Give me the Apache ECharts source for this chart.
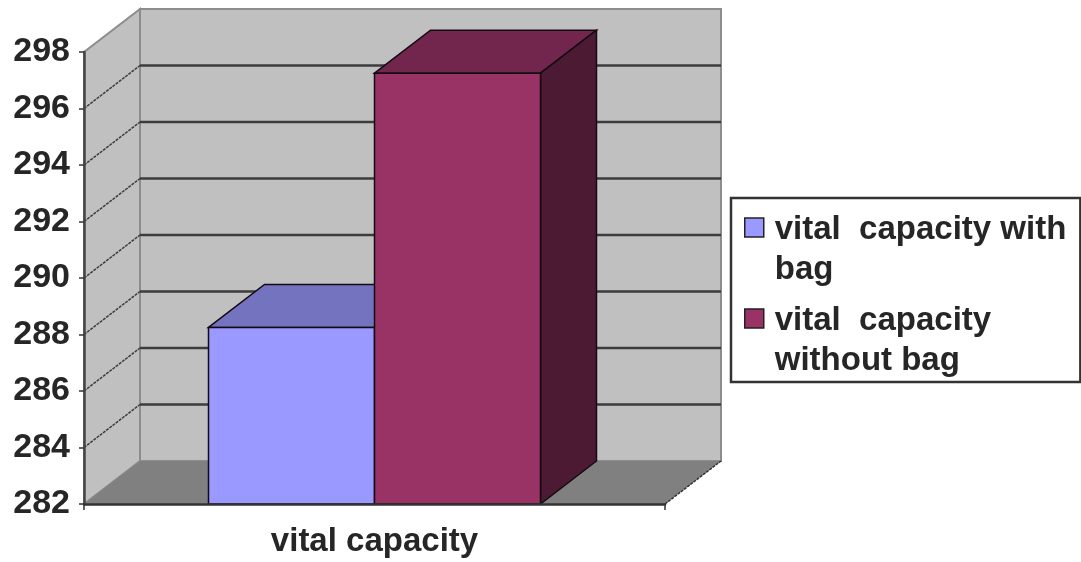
<!DOCTYPE html>
<html>
<head>
<meta charset="utf-8">
<style>html,body{margin:0;padding:0;background:#fff}#chart{width:1081px;height:562px}</style>
<script src="https://cdn.jsdelivr.net/npm/echarts@6/dist/echarts.min.js"></script>
</head>
<body>
<div id="chart"></div>
<script>
// Vital capacity measured with and without a bag
const categories = ['vital capacity'];
const withBag = [288.25];
const withoutBag = [297.25];
const yTicks = [282, 284, 286, 288, 290, 292, 294, 296, 298];
const seriesNames = ['vital  capacity with bag', 'vital  capacity without bag'];

// Oblique projection offset of the chart's depth, in pixels
const DEPTH_X = 56, DEPTH_Y = 43;
// Each bar's share of the category band
const BAR_SHARE = 166 / 581;

const poly = (points, fill, stroke, lineWidth) => ({
  type: 'polygon',
  shape: { points },
  style: { fill, stroke: stroke || 'none', lineWidth: lineWidth || 0 }
});
const line = (x1, y1, x2, y2, stroke, lineWidth, lineDash) => ({
  type: 'line',
  shape: { x1, y1, x2, y2 },
  style: { stroke, lineWidth, lineDash: lineDash || null, fill: 'none' }
});

// Back wall, side wall, floor and the gridlines that wrap around them
function renderWalls(params, api) {
  const cs = params.coordSys;
  const left = cs.x, right = cs.x + cs.width;
  const y = api.coord([0, api.value(0)])[1];
  const bottom = cs.y + cs.height, top = cs.y;
  const children = [];
  if (params.dataIndex === 0) {
    children.push(
      poly([[left + DEPTH_X, top - DEPTH_Y], [right + DEPTH_X, top - DEPTH_Y],
            [right + DEPTH_X, bottom - DEPTH_Y], [left + DEPTH_X, bottom - DEPTH_Y]], '#c0c0c0', '#8c8c8c', 2),
      poly([[left, top], [left + DEPTH_X, top - DEPTH_Y], [left + DEPTH_X, bottom - DEPTH_Y], [left, bottom]], '#c0c0c0', '#8c8c8c', 2),
      poly([[left, bottom], [left + DEPTH_X, bottom - DEPTH_Y], [right + DEPTH_X, bottom - DEPTH_Y], [right, bottom]], '#808080', 'none', 0),
      line(right, bottom, right + DEPTH_X, bottom - DEPTH_Y, '#333', 1.5, [3, 1])
    );
  } else if (api.value(0) !== yTicks[yTicks.length - 1]) {
    children.push(
      line(left + DEPTH_X, y - DEPTH_Y, right + DEPTH_X, y - DEPTH_Y, '#3c3c3c', 2.4),
      line(left, y, left + DEPTH_X, y - DEPTH_Y, '#3c3c3c', 1.5, [3, 1])
    );
  }
  return { type: 'group', children };
}

// A box standing on the front plane, drawn as front, top and side faces
function boxRenderer(barIndex, faces) {
  return function (params, api) {
    const center = api.coord([api.value(0), api.value(1)]);
    const base = api.coord([api.value(0), yTicks[0]]);
    const w = api.size([1, 0])[0] * BAR_SHARE;
    const x0 = center[0] + (barIndex - 1) * w, x1 = x0 + w;
    const yt = center[1], yb = base[1];
    const edge = '#140a14';
    return {
      type: 'group',
      children: [
        poly([[x0, yt], [x0 + DEPTH_X, yt - DEPTH_Y], [x1 + DEPTH_X, yt - DEPTH_Y], [x1, yt]], faces.top, edge, 1.5),
        poly([[x1, yt], [x1 + DEPTH_X, yt - DEPTH_Y], [x1 + DEPTH_X, yb - DEPTH_Y], [x1, yb]], faces.side, edge, 1.5),
        poly([[x0, yt], [x1, yt], [x1, yb], [x0, yb]], faces.front, edge, 1.5)
      ]
    };
  };
}

const chart = echarts.init(document.getElementById('chart'), null, { renderer: 'canvas' });
const FONT = 'Liberation Sans';
const INK = '#262626';

chart.setOption({
  animation: false,
  backgroundColor: '#ffffff',
  grid: { left: 84, right: 416, top: 52, bottom: 58, containLabel: false },
  xAxis: {
    type: 'category',
    data: categories,
    z: 5,
    axisLine: { show: true, lineStyle: { color: '#333', width: 2.5 } },
    axisTick: { show: true, alignWithLabel: false, length: 6, lineStyle: { color: '#333', width: 1.5 } },
    axisLabel: { color: INK, fontFamily: FONT, fontWeight: 'bold', fontSize: 33, margin: 21 }
  },
  yAxis: {
    type: 'value',
    min: 282,
    max: 298,
    interval: 2,
    z: 5,
    splitLine: { show: false },
    axisLine: { show: true, onZero: false, lineStyle: { color: '#444', width: 2.5 } },
    axisTick: { show: true, length: 5, lineStyle: { color: '#333', width: 1.5 } },
    axisLabel: { color: INK, fontFamily: FONT, fontWeight: 'bold', fontSize: 34, margin: 14 }
  },
  legend: {
    orient: 'vertical',
    left: 731,
    top: 198,
    padding: [12, 14, 1, 13],
    itemGap: 11,
    itemWidth: 25,
    itemHeight: 64,
    borderColor: '#333',
    borderWidth: 2.5,
    backgroundColor: '#fff',
    selectedMode: false,
    // A square marker aligned to the first line of the wrapped entry
    icon: 'path://M0 0H19V19H0Z M0 64H0Z M25 64H25Z',
    itemStyle: { borderColor: '#222', borderWidth: 1.5 },
    data: seriesNames,
    formatter: name => name.replace('with bag', 'with\nbag').replace('capacity without', 'capacity\nwithout'),
    textStyle: { color: INK, fontFamily: FONT, fontWeight: 'bold', fontSize: 33, lineHeight: 40 }
  },
  series: [
    {
      type: 'custom',
      name: 'walls',
      data: yTicks.map(v => [v]),
      renderItem: renderWalls,
      silent: true,
      z: 1
    },
    {
      type: 'custom',
      name: seriesNames[0],
      itemStyle: { color: '#9999ff' },
      data: withBag.map((v, i) => [i, v]),
      encode: { x: 0, y: 1 },
      renderItem: boxRenderer(0, { front: '#9999ff', top: '#7373bf', side: '#4d4d80' }),
      z: 2
    },
    {
      type: 'custom',
      name: seriesNames[1],
      itemStyle: { color: '#993366' },
      data: withoutBag.map((v, i) => [i, v]),
      encode: { x: 0, y: 1 },
      renderItem: boxRenderer(1, { front: '#993366', top: '#73264d', side: '#4d1a33' }),
      z: 3
    }
  ]
});
</script>
</body>
</html>
